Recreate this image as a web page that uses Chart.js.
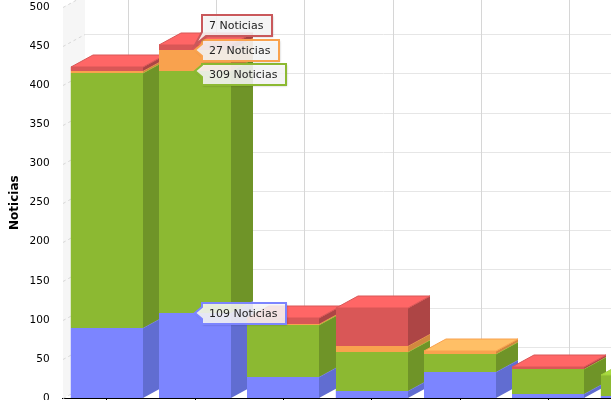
<!DOCTYPE html>
<html>
<head>
<meta charset="utf-8">
<style>
  html, body { margin: 0; padding: 0; background: #fff; overflow: hidden; }
  #wrap { width: 611px; height: 400px; overflow: hidden; }
  canvas { display: block; margin-top: -4px; }
</style>
<script src="https://cdn.jsdelivr.net/npm/chart.js@4"></script>
</head>
<body>
<div id="wrap"><canvas id="main-chart" width="681" height="424"></canvas></div>
<script>
const categories = ['1', '2', '3', '4', '5', '6', '7']
const blueValues = [90, 109, 27, 9, 33, 5, 3]
const greenValues = [326, 309, 66, 50, 23, 32, 27]
const orangeValues = [3, 27, 2, 7, 4, 0, 0]
const redValues = [5, 7, 8, 49, 0, 3, 0]
const yTicks = [0, 50, 100, 150, 200, 250, 300, 350, 400, 450, 500]

const DEPTH_X = 22
const DEPTH_Y = 12
const FONT = '"DejaVu Sans", sans-serif'

const COLORS = [
  { front: '#7c85ff', side: '#616dd1', top: '#9aa2ff', edge: '#7c85ff' },
  { front: '#8cb932', side: '#6f9428', top: '#a9dc40', edge: '#a0d03a' },
  { front: '#f9a24e', side: '#d1883f', top: '#ffbf66', edge: '#f9a24e' },
  { front: '#d95757', side: '#ad4545', top: '#ff6666', edge: '#d95757' }
]

const poly = (ctx, pts, fill, stroke) => {
  ctx.beginPath()
  pts.forEach((p, i) => i ? ctx.lineTo(p[0], p[1]) : ctx.moveTo(p[0], p[1]))
  ctx.closePath()
  ctx.fillStyle = fill
  ctx.fill()
  if (stroke) {
    ctx.strokeStyle = stroke
    ctx.lineWidth = 1
    ctx.stroke()
  }
}

// back wall and grid of the fake 3d box
const wallPlugin = {
  id: 'wall',
  beforeDatasetsDraw(chart) {
    const { ctx, chartArea, scales } = chart
    const left = Math.round(chartArea.left)
    const y0 = scales.y.getPixelForValue(0)
    const yMax = scales.y.getPixelForValue(500)
    ctx.save()
    poly(ctx, [[left, y0], [left + DEPTH_X, y0 - DEPTH_Y], [left + DEPTH_X, yMax - DEPTH_Y], [left, yMax]], '#f6f6f6')

    ctx.lineWidth = 1
    yTicks.forEach(v => {
      const y = Math.round(scales.y.getPixelForValue(v)) + 0.5
      ctx.strokeStyle = '#e6e6e6'
      ctx.beginPath()
      ctx.moveTo(left + DEPTH_X, y - DEPTH_Y)
      ctx.lineTo(chartArea.right + DEPTH_X, y - DEPTH_Y)
      ctx.stroke()
      ctx.strokeStyle = '#d8d8d8'
      ctx.setLineDash([3, 3])
      ctx.beginPath()
      ctx.moveTo(left, y)
      ctx.lineTo(left + DEPTH_X, y - DEPTH_Y)
      ctx.stroke()
      ctx.setLineDash([])
    })
    categories.forEach((c, i) => {
      const x = Math.round(scales.x.getPixelForValue(i)) + DEPTH_X - 1 + 0.5
      ctx.strokeStyle = '#d6d6d6'
      ctx.beginPath()
      ctx.moveTo(x, y0 - DEPTH_Y)
      ctx.lineTo(x, yMax - DEPTH_Y)
      ctx.stroke()
    })
    ctx.restore()
  }
}

// paints every stack again as a box with side and top faces
const boxPlugin = {
  id: 'box',
  afterDatasetsDraw(chart) {
    const { ctx } = chart
    const metas = chart.data.datasets.map((d, i) => chart.getDatasetMeta(i))
    ctx.save()
    categories.forEach((c, j) => {
      let last = null
      metas.forEach((meta, i) => {
        if (!chart.data.datasets[i].data[j]) return
        const bar = meta.data[j]
        const x1 = Math.round(bar.x - bar.width / 2)
        const x2 = Math.round(bar.x + bar.width / 2)
        const top = Math.round(bar.y)
        const bottom = Math.round(bar.base)
        const col = COLORS[i]
        poly(ctx, [[x2, top], [x2 + DEPTH_X, top - DEPTH_Y], [x2 + DEPTH_X, bottom - DEPTH_Y], [x2, bottom]], col.side)
        poly(ctx, [[x1, top], [x2, top], [x2, bottom], [x1, bottom]], col.front)
        ctx.strokeStyle = col.edge
        ctx.lineWidth = 1
        ctx.beginPath()
        ctx.moveTo(x2, top)
        ctx.lineTo(x2 + DEPTH_X, top - DEPTH_Y)
        ctx.stroke()
        last = { x1, x2, top, col }
      })
      if (last) {
        const { x1, x2, top, col } = last
        poly(ctx, [[x1, top], [x2, top], [x2 + DEPTH_X, top - DEPTH_Y], [x1 + DEPTH_X, top - DEPTH_Y]], col.top, col.edge)
      }
    })
    ctx.restore()
  }
}

// the four callouts left open on the second column
const calloutPlugin = {
  id: 'callout',
  afterDraw(chart) {
    const { ctx } = chart
    const col = 1
    const shifts = [0, 3, 0, -20]
    ctx.save()
    ctx.font = `11px ${FONT}`
    chart.data.datasets.forEach((d, i) => {
      const bar = chart.getDatasetMeta(i).data[col]
      const tipX = Math.round(bar.x)
      const tipY = Math.round(bar.y)
      const text = `${d.data[col]} Noticias`
      const x = tipX + 7
      const w = Math.round(ctx.measureText(text).width) + 16
      const h = 21
      const y = tipY + shifts[i] - 10
      const pts = i === 3
        ? [[x, y], [x + w, y], [x + w, y + h], [x + 4, y + h], [tipX, tipY], [x, y + h - 4]]
        : [[x, y], [x + w, y], [x + w, y + h], [x, y + h], [x, tipY + 6], [tipX, tipY], [x, tipY - 6]]
      ctx.save()
      ctx.shadowColor = 'rgba(0,0,0,0.35)'
      ctx.shadowOffsetX = 1
      ctx.shadowOffsetY = 1
      ctx.shadowBlur = 2
      poly(ctx, pts, 'rgba(255,255,255,0.85)')
      ctx.restore()
      ctx.lineWidth = 2
      ctx.strokeStyle = i === 3 ? '#c9585b' : COLORS[i].front
      ctx.beginPath()
      pts.forEach((p, k) => k ? ctx.lineTo(p[0], p[1]) : ctx.moveTo(p[0], p[1]))
      ctx.closePath()
      ctx.stroke()
      ctx.fillStyle = '#222'
      ctx.textAlign = 'left'
      ctx.textBaseline = 'middle'
      ctx.fillText(text, x + 7, y + h / 2 + 0.5)
    })
    ctx.restore()
  }
}

const chart = new Chart(document.getElementById('main-chart'), {
  type: 'bar',
  data: {
    labels: categories,
    datasets: [
      { label: 'Azul', data: blueValues, backgroundColor: COLORS[0].front },
      { label: 'Verde', data: greenValues, backgroundColor: COLORS[1].front },
      { label: 'Naranja', data: orangeValues, backgroundColor: COLORS[2].front },
      { label: 'Rojo', data: redValues, backgroundColor: COLORS[3].front }
    ]
  },
  options: {
    responsive: false,
    animation: false,
    devicePixelRatio: 1,
    datasets: { bar: { categoryPercentage: 1, barPercentage: 0.815 } },
    plugins: { legend: { display: false }, tooltip: { enabled: false } },
    scales: {
      x: {
        stacked: true,
        afterFit: scale => { scale.height = 22 },
        border: { display: true, color: '#000', width: 1 },
        grid: { offset: false, drawOnChartArea: false, drawTicks: true, tickColor: '#000', tickLength: 4 },
        ticks: { autoSkip: false, callback: () => '' }
      },
      y: {
        stacked: true,
        min: 0,
        max: 500,
        afterFit: scale => { scale.width = 62.6 },
        afterBuildTicks: scale => { scale.ticks = yTicks.map(value => ({ value })) },
        border: { display: false },
        grid: { display: false },
        ticks: { color: '#000', padding: 5, font: { family: FONT, size: 10.5 } },
        title: {
          display: true,
          text: 'Noticias',
          color: '#000',
          padding: { top: 8, bottom: 0 },
          font: { family: FONT, size: 12, weight: 'bold' }
        }
      }
    }
  },
  plugins: [wallPlugin, boxPlugin, calloutPlugin]
})
</script>
</body>
</html>
